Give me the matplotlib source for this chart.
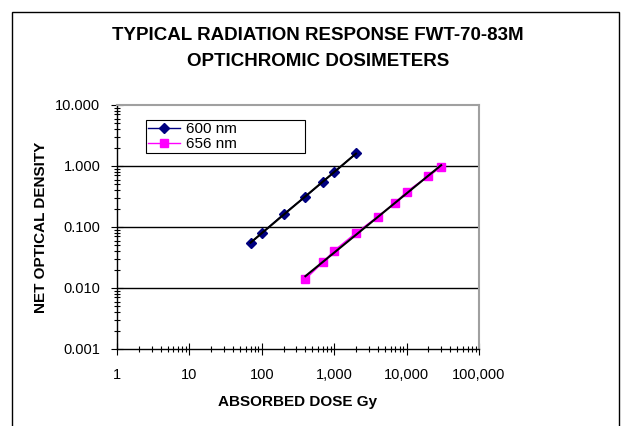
import numpy as np
import matplotlib
matplotlib.use('Agg')
import matplotlib.pyplot as plt
from matplotlib.patches import Rectangle
from matplotlib.ticker import FuncFormatter, LogLocator, NullFormatter

plt.rcParams['font.family'] = ['Liberation Sans', 'DejaVu Sans']

# dose (Gy) vs net optical density
dose_600 = [70, 100, 200, 400, 700, 1000, 2000]
od_600 = [0.055, 0.079, 0.163, 0.314, 0.553, 0.79, 1.61]
dose_656 = [400, 700, 1000, 2000, 4000, 7000, 10000, 20000, 30000]
od_656 = [0.014, 0.0264, 0.041, 0.080, 0.148, 0.25, 0.379, 0.686, 0.95]

fig = plt.figure(figsize=(6.26, 4.26), dpi=100)
ax = fig.add_axes([117 / 626, 1 - 349 / 426, 362 / 626, 244 / 426])

# outer chart border
fig.patches.append(Rectangle((12 / 626, -0.05), 607 / 626, 1.05 - 12 / 426,
                             transform=fig.transFigure, fill=False,
                             edgecolor='black', linewidth=1.0, clip_on=False))

ax.plot(dose_600, od_600, color='#000080', marker='D', markersize=5,
        linewidth=1, label='600 nm', zorder=3)
ax.plot(dose_656, od_656, color='#ff00ff', marker='s', markersize=6,
        linewidth=1, label='656 nm', zorder=3)

# power-law trendlines
for d, o in [(dose_600, od_600), (dose_656, od_656)]:
    k, b = np.polyfit(np.log10(d), np.log10(o), 1)
    xs = np.array([min(d), max(d)])
    ax.plot(xs, 10 ** (b + k * np.log10(xs)), color='black', linewidth=1.5, zorder=4)

ax.set_xscale('log')
ax.set_yscale('log')
ax.set_xlim(1, 100000)
ax.set_ylim(0.001, 10)

ax.xaxis.set_major_locator(LogLocator(base=10, numticks=10))
ax.xaxis.set_minor_locator(LogLocator(base=10, subs=np.arange(2, 10), numticks=10))
ax.yaxis.set_major_locator(LogLocator(base=10, numticks=10))
ax.yaxis.set_minor_locator(LogLocator(base=10, subs=np.arange(2, 10), numticks=10))
ax.xaxis.set_major_formatter(FuncFormatter(lambda v, p: f'{v:,.0f}'))
ax.yaxis.set_major_formatter(FuncFormatter(lambda v, p: f'{v:.3f}'))
ax.xaxis.set_minor_formatter(NullFormatter())
ax.yaxis.set_minor_formatter(NullFormatter())

ax.tick_params(which='major', direction='inout', length=8, width=0.8, labelsize=10.5)
ax.tick_params(which='minor', direction='inout', length=5, width=0.8)
ax.tick_params(axis='x', which='major', pad=10)
ax.tick_params(axis='y', which='major', pad=8)

for yv in [0.01, 0.1, 1]:
    ax.axhline(yv, color='black', linewidth=1, zorder=1)

ax.spines['top'].set_color('#a0a0a0')
ax.spines['right'].set_color('#a0a0a0')
ax.spines['top'].set_linewidth(1.5)
ax.spines['right'].set_linewidth(1.5)
ax.spines['left'].set_linewidth(1)
ax.spines['bottom'].set_linewidth(1)

ax.set_xlabel('ABSORBED DOSE Gy', fontsize=11, fontweight='bold', labelpad=9)
ax.set_ylabel('NET OPTICAL DENSITY', fontsize=11, fontweight='bold', labelpad=5)

fig.text(318 / 626, 1 - 35 / 426, 'TYPICAL RADIATION RESPONSE FWT-70-83M',
         ha='center', va='center', fontsize=13.5, fontweight='bold')
fig.text(318 / 626, 1 - 61 / 426, 'OPTICHROMIC DOSIMETERS',
         ha='center', va='center', fontsize=13.5, fontweight='bold')

leg = ax.legend(loc='upper left', bbox_to_anchor=(0.080, 0.799, 0.439, 0.139),
                mode='expand', fontsize=11, frameon=True, fancybox=False,
                edgecolor='black', framealpha=1, handlelength=2.1,
                handletextpad=0.35, borderpad=0.15, labelspacing=0.05,
                borderaxespad=0)
leg.get_frame().set_linewidth(0.8)

fig.savefig('out.png', dpi=100)
